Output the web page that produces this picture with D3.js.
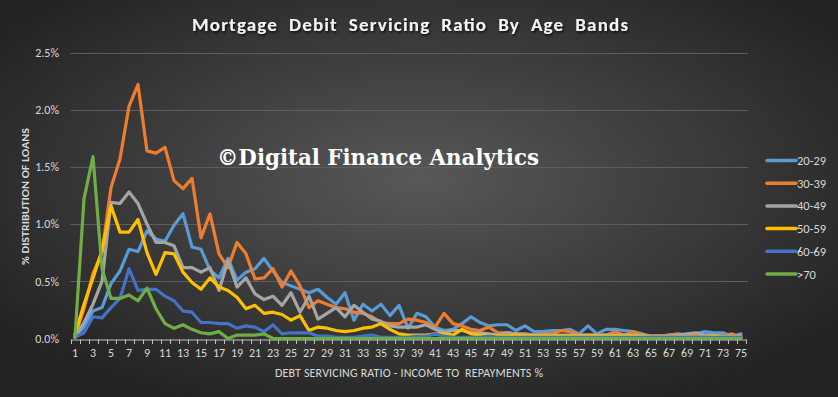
<!DOCTYPE html>
<html><head><meta charset="utf-8">
<script src="https://cdn.jsdelivr.net/npm/d3@7"></script>
<style>html,body{margin:0;padding:0;background:#2a2a2a;overflow:hidden}</style>
</head><body>
<svg id="c" width="838" height="397"></svg>
<script>
const title = "Mortgage  Debit  Servicing  Ratio  By  Age  Bands";
const watermark = "©Digital Finance Analytics";
const xTitle = "DEBT SERVICING RATIO - INCOME TO  REPAYMENTS %";
const yTitle = "% DISTRIBUTION OF LOANS";
const categories = d3.range(1, 76);
const yTicks = [0, 0.5, 1.0, 1.5, 2.0, 2.5];
const seriesNames = ["20-29", "30-39", "40-49", "50-59", "60-69", ">70"];
const seriesColors = ["#5B9BD5", "#ED7D31", "#A5A5A5", "#FFC000", "#4472C4", "#70AD47"];

const s2029 = [0.02,0.10,0.24,0.27,0.48,0.59,0.78,0.76,0.94,0.87,0.85,0.99,1.09,0.80,0.78,0.60,0.53,0.70,0.51,0.58,0.61,0.70,0.59,0.49,0.46,0.43,0.40,0.43,0.36,0.30,
  0.40,0.16,0.30,0.24,0.30,0.20,0.29,0.09,0.22,0.19,0.10,0.07,0.08,0.13,0.19,0.14,0.11,0.12,0.12,0.07,0.11,0.06,0.06,0.07,0.07,0.08,0.04,0.11,0.04,0.08,
  0.08,0.07,0.06,0.04,0.02,0.02,0.03,0.03,0.03,0.04,0.06,0.05,0.05,0.02,0.04];
const s3039 = [0.02,0.26,0.57,0.75,1.32,1.57,2.03,2.22,1.64,1.62,1.67,1.38,1.31,1.40,0.88,1.09,0.74,0.62,0.84,0.74,0.52,0.53,0.61,0.45,0.59,0.46,0.27,0.33,0.30,0.27,
  0.26,0.23,0.22,0.19,0.14,0.13,0.13,0.17,0.16,0.14,0.10,0.22,0.13,0.11,0.08,0.07,0.10,0.05,0.05,0.04,0.03,0.03,0.04,0.04,0.07,0.06,0.03,0.03,0.03,0.03,
  0.06,0.03,0.06,0.03,0.02,0.02,0.03,0.04,0.03,0.02,0.02,0.02,0.02,0.04,0.01];
const s4049 = [0.01,0.14,0.30,0.50,1.19,1.18,1.28,1.18,1.00,0.84,0.84,0.81,0.62,0.62,0.58,0.62,0.42,0.68,0.45,0.53,0.39,0.34,0.37,0.29,0.40,0.23,0.37,0.17,0.22,0.27,
  0.19,0.29,0.23,0.17,0.15,0.11,0.10,0.10,0.10,0.12,0.08,0.05,0.07,0.07,0.05,0.05,0.04,0.03,0.05,0.04,0.04,0.03,0.03,0.03,0.03,0.03,0.03,0.03,0.03,0.03,
  0.03,0.03,0.03,0.03,0.02,0.02,0.02,0.03,0.04,0.05,0.03,0.03,0.02,0.02,0.02];
const s5059 = [0.04,0.30,0.53,0.77,1.16,0.93,0.93,1.04,0.75,0.56,0.75,0.74,0.58,0.49,0.43,0.53,0.45,0.42,0.36,0.26,0.29,0.22,0.23,0.21,0.16,0.20,0.07,0.10,0.09,0.07,
  0.06,0.07,0.09,0.10,0.13,0.08,0.04,0.03,0.03,0.03,0.04,0.04,0.03,0.08,0.04,0.03,0.03,0.02,0.02,0.03,0.02,0.02,0.02,0.02,0.02,0.02,0.02,0.02,0.02,0.02,
  0.02,0.02,0.02,0.02,0.01,0.01,0.01,0.01,0.01,0.01,0.01,0.02,0.01,0.01,0.01];
const s6069 = [0.01,0.05,0.19,0.18,0.27,0.35,0.61,0.42,0.43,0.43,0.37,0.33,0.24,0.23,0.14,0.14,0.13,0.13,0.09,0.11,0.10,0.06,0.12,0.04,0.05,0.05,0.05,0.02,0.02,0.01,
  0.01,0.01,0.02,0.03,0.01,0.01,0.01,0.01,0.02,0.02,0.04,0.02,0.01,0.01,0.01,0.01,0.02,0.01,0.01,0.01,0.01,0.01,0.01,0.01,0.01,0.01,0.01,0.01,0.01,0.01,
  0.01,0.01,0.01,0.01,0.01,0.01,0.01,0.01,0.01,0.01,0.01,0.01,0.01,0.01,0.01];
const s70 = [0.01,1.22,1.59,0.61,0.35,0.35,0.38,0.33,0.44,0.26,0.13,0.09,0.12,0.08,0.05,0.04,0.06,0.00,0.03,0.03,0.03,0.04,0.00,0.00,0.00,0.00,0.00,0.00,0.00,0.00,
  0.00,0.00,0.00,0.00,0.00,0.00,0.00,0.00,0.00,0.00,0.00,0.00,0.00,0.00,0.00,0.00,0.00,0.00,0.00,0.00,0.00,0.00,0.00,0.00,0.00,0.00,0.00,0.00,0.00,0.00,
  0.00,0.00,0.00,0.00,0.00,0.00,0.00,0.00,0.00,0.00,0.00,0.00,0.00,0.00,0.00];
const seriesValues = [s2029, s3039, s4049, s5059, s6069, s70];

const svg = d3.select("#c");
const W = 838, H = 397;
const uiFont = "Calibri, Carlito, 'Open Sans', 'Liberation Sans', Arial, sans-serif";

// background gradient
const defs = svg.append("defs");
const rg = defs.append("radialGradient").attr("id","bg").attr("cx","50%").attr("cy","45%").attr("r","62%");
rg.append("stop").attr("offset","0%").attr("stop-color","#585858");
rg.append("stop").attr("offset","100%").attr("stop-color","#232323");
svg.append("rect").attr("width",W).attr("height",H).attr("fill","url(#bg)");
const sh = defs.append("filter").attr("id","sh").attr("x","-5%").attr("y","-20%").attr("width","110%").attr("height","150%");
sh.append("feDropShadow").attr("dx",1).attr("dy",1.5).attr("stdDeviation",1).attr("flood-color","#000").attr("flood-opacity",0.8);

const x = d3.scaleBand().domain(categories).range([70.5, 745.5]);
const y = d3.scaleLinear().domain([0, 2.5]).range([338.5, 52.5]);

// gridlines
svg.append("g").selectAll("line").data(yTicks.slice(1)).join("line")
  .attr("x1",70.5).attr("x2",748).attr("y1",d=>Math.round(y(d))+0.5).attr("y2",d=>Math.round(y(d))+0.5)
  .attr("stroke","#5e5e5e").attr("stroke-width",1);

// y axis labels
const yAxis = d3.axisLeft(y).tickValues(yTicks).tickFormat(d=>d.toFixed(1)+"%").tickSize(0).tickPadding(11);
const gy = svg.append("g").attr("transform","translate(70,0)").call(yAxis);
gy.select(".domain").remove();
gy.selectAll("text").attr("fill","#d9d9d9").style("font-family",uiFont).style("font-size","12px");

// x axis
const xAxis = d3.axisBottom(x).tickSize(0).tickPadding(9).tickFormat(d => d % 2 === 1 ? d : "");
const gx = svg.append("g").attr("transform","translate(0,339.5)").call(xAxis);
gx.select(".domain").attr("stroke","#bfbfbf");
gx.selectAll("text").attr("fill","#d9d9d9").style("font-family",uiFont).style("font-size","12px");
// category boundary tick marks
svg.append("g").selectAll("line").data(categories.concat([76])).join("line")
  .attr("x1",d=> d<=75 ? Math.round(x(d))+0.5 : Math.round(x(75)+x.bandwidth())+0.5)
  .attr("x2",d=> d<=75 ? Math.round(x(d))+0.5 : Math.round(x(75)+x.bandwidth())+0.5)
  .attr("y1",339.5).attr("y2",344).attr("stroke","#bfbfbf").attr("stroke-width",1);

// lines
const line = d3.line().x((d,i)=>x(categories[i])+x.bandwidth()/2).y(d=>y(d));
svg.append("g").selectAll("path").data(seriesValues).join("path")
  .attr("d", line).attr("fill","none").attr("stroke",(d,i)=>seriesColors[i])
  .attr("stroke-width",3.2).attr("stroke-linejoin","round").attr("stroke-linecap","round");

// title
svg.append("text").attr("x",192).attr("y",31)
  .attr("fill","#f4f4f4").attr("filter","url(#sh)")
  .style("font-family",uiFont).style("font-weight","bold").style("font-size","19px")
  .style("white-space","pre").attr("textLength",436).attr("lengthAdjust","spacing").text(title);

// watermark
svg.append("text").attr("x",217).attr("y",165)
  .attr("fill","#ffffff")
  .style("font-family","'DejaVu Serif', serif").style("font-weight","bold").style("font-size","22.5px")
  .attr("textLength",322).attr("lengthAdjust","spacingAndGlyphs").text(watermark);

// axis titles
svg.append("text").attr("x",275).attr("y",377)
  .attr("fill","#d9d9d9").style("font-family",uiFont)
  .style("font-size","12px").style("white-space","pre").attr("textLength",268).attr("lengthAdjust","spacing").text(xTitle);
svg.append("text").attr("transform","translate(29,265) rotate(-90)")
  .attr("fill","#d9d9d9").style("font-family",uiFont)
  .style("font-weight","bold").style("font-size","10.5px").attr("textLength",137).attr("lengthAdjust","spacingAndGlyphs").text(yTitle);

// legend
const lg = svg.append("g").selectAll("g").data(seriesNames).join("g")
  .attr("transform",(d,i)=>`translate(767,${160.5 + i*22.7})`);
lg.append("line").attr("x1",0).attr("x2",29).attr("y1",0).attr("y2",0)
  .attr("stroke",(d,i)=>seriesColors[i]).attr("stroke-width",3.5).attr("stroke-linecap","round");
lg.append("text").attr("x",30).attr("y",4.5).attr("fill","#d9d9d9")
  .style("font-family",uiFont).style("font-size","12.5px").text(d=>d);
</script>
</body></html>
